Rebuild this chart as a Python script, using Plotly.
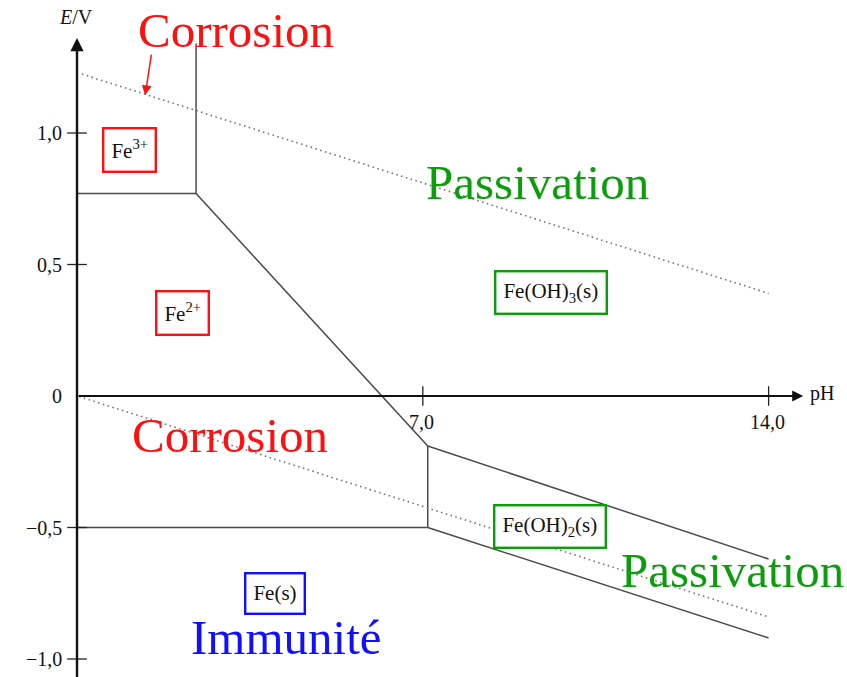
import plotly.graph_objects as go

# Pourbaix (E-pH) diagram of iron
# Boundary lines: pH values and potentials E (V)
fe3_fe2_ph = [0.0, 2.41]
fe3_fe2_E = [0.77, 0.77]
fe3_feoh3_ph = [2.41, 2.41]
fe3_feoh3_E = [0.77, 1.34]
fe2_feoh3_ph = [2.41, 7.1]
fe2_feoh3_E = [0.77, -0.19]
fe2_feoh2_ph = [7.1, 7.1]
fe2_feoh2_E = [-0.19, -0.5]
fe2_fe_ph = [0.0, 7.1]
fe2_fe_E = [-0.5, -0.5]
feoh3_feoh2_ph = [7.1, 14.0]
feoh3_feoh2_E = [-0.19, -0.62]
feoh2_fe_ph = [7.1, 14.0]
feoh2_fe_E = [-0.5, -0.92]

# Water stability limits (O2/H2O and H+/H2)
o2_ph = [0.1, 14.0]
o2_E = [1.224, 0.39]
h2_ph = [0.04, 14.0]
h2_E = [-0.002, -0.84]

# Axis ticks
y_ticks = [1.0, 0.5, -0.5, -1.0]
y_tick_labels = ["1,0", "0,5", "−0,5", "−1,0"]
x_ticks = [7.0, 14.0]
x_tick_labels = ["7,0", "14,0"]

SERIF = "Liberation Serif, DejaVu Serif, serif"
LINE = "#4a4a4a"
RED = "#ff1010"
GREEN = "#0a9e0a"
BLUE = "#1010ff"

fig = go.Figure()

def boundary(xs, ys):
    fig.add_trace(go.Scatter(x=xs, y=ys, mode="lines",
                             line=dict(color=LINE, width=1.5),
                             hoverinfo="skip", showlegend=False))

for xs, ys in [(fe3_fe2_ph, fe3_fe2_E), (fe3_feoh3_ph, fe3_feoh3_E),
               (fe2_feoh3_ph, fe2_feoh3_E), (fe2_feoh2_ph, fe2_feoh2_E),
               (fe2_fe_ph, fe2_fe_E), (feoh3_feoh2_ph, feoh3_feoh2_E),
               (feoh2_fe_ph, feoh2_fe_E)]:
    boundary(xs, ys)

for xs, ys in [(o2_ph, o2_E), (h2_ph, h2_E)]:
    fig.add_trace(go.Scatter(x=xs, y=ys, mode="lines",
                             line=dict(color="#777777", width=1.6, dash="1.6px,3.4px"),
                             hoverinfo="skip", showlegend=False))

# Tick marks crossing the axes
fig.add_trace(go.Scatter(x=[0] * len(y_ticks), y=y_ticks, mode="markers",
                         marker=dict(symbol="line-ew", size=14,
                                     line=dict(color="#222", width=1.3)),
                         hoverinfo="skip", showlegend=False))
fig.add_trace(go.Scatter(x=x_ticks, y=[0] * len(x_ticks), mode="markers",
                         marker=dict(symbol="line-ns", size=14,
                                     line=dict(color="#222", width=1.3)),
                         hoverinfo="skip", showlegend=False))

ann = []
# Axes with arrowheads
ann.append(dict(x=0, y=1.361, ax=0, ay=-1.08, xref="x", yref="y", axref="x", ayref="y",
                text="", showarrow=True, arrowhead=2, arrowsize=1.1, arrowwidth=2.4,
                arrowcolor="#111"))
ann.append(dict(x=14.70, y=0, ax=0, ay=0, xref="x", yref="y", axref="x", ayref="y",
                text="", showarrow=True, arrowhead=2, arrowsize=1.1, arrowwidth=2,
                arrowcolor="#111"))

tick_font = dict(family=SERIF, size=20, color="#111")
for v, lab in zip(y_ticks + [0.0], y_tick_labels + ["0"]):
    ann.append(dict(x=-0.26, y=v, xref="x", yref="y", text=lab, showarrow=False,
                    xanchor="right", yanchor="middle", font=tick_font))
for v, lab in zip(x_ticks, x_tick_labels):
    ann.append(dict(x=v - 0.02, y=-0.1, xref="x", yref="y", text=lab, showarrow=False,
                    xanchor="center", yanchor="middle", font=tick_font))
ann.append(dict(x=14.8, y=0.01, xref="x", yref="y", text="pH", showarrow=False,
                xanchor="left", yanchor="middle", font=tick_font))
ann.append(dict(x=-0.02, y=1.44, xref="x", yref="y", text="<i>E</i>/V", showarrow=False,
                xanchor="center", yanchor="middle", font=tick_font))

# Region names
def big(x, y, text, color):
    ann.append(dict(x=x, y=y, xref="x", yref="y", text=text, showarrow=False,
                    xanchor="center", yanchor="middle",
                    font=dict(family=SERIF, size=49, color=color)))

big(3.22, 1.388, "Corrosion", RED)
big(9.33, 0.81, "Passivation", GREEN)
big(3.10, -0.15, "Corrosion", RED)
big(13.26, -0.665, "Passivation", GREEN)
big(4.25, -0.92, "Immunité", BLUE)

# Arrow pointing at the O2/H2O line
ann.append(dict(x=1.38, y=1.144, ax=1.51, ay=1.304, xref="x", yref="y",
                axref="x", ayref="y", text="", showarrow=True, arrowhead=2,
                arrowsize=1.3, arrowwidth=1.5, arrowcolor=RED))

# Boxed species labels
def boxed(x, y, text, color):
    ann.append(dict(x=x, y=y, xref="x", yref="y", text=text, showarrow=False,
                    xanchor="center", yanchor="middle",
                    bordercolor=color, borderwidth=2.4, borderpad=7, bgcolor="white",
                    font=dict(family=SERIF, size=21, color="#111")))

boxed(1.07, 0.935, "Fe<sup>3+</sup>", RED)
boxed(2.13, 0.316, "Fe<sup>2+</sup>", RED)
boxed(9.60, 0.395, "Fe(OH)<sub>3</sub>(s)", GREEN)
boxed(9.57, -0.498, "Fe(OH)<sub>2</sub>(s)", GREEN)
boxed(4.01, -0.749, "Fe(s)", BLUE)

fig.update_layout(
    width=847, height=677,
    margin=dict(l=0, r=0, t=0, b=0),
    paper_bgcolor="white", plot_bgcolor="white",
    xaxis=dict(range=[-1.559, 15.587], visible=False, fixedrange=True),
    yaxis=dict(range=[-1.0684, 1.5057], visible=False, fixedrange=True),
    annotations=ann,
    showlegend=False,
)

fig.write_html("out.html")
